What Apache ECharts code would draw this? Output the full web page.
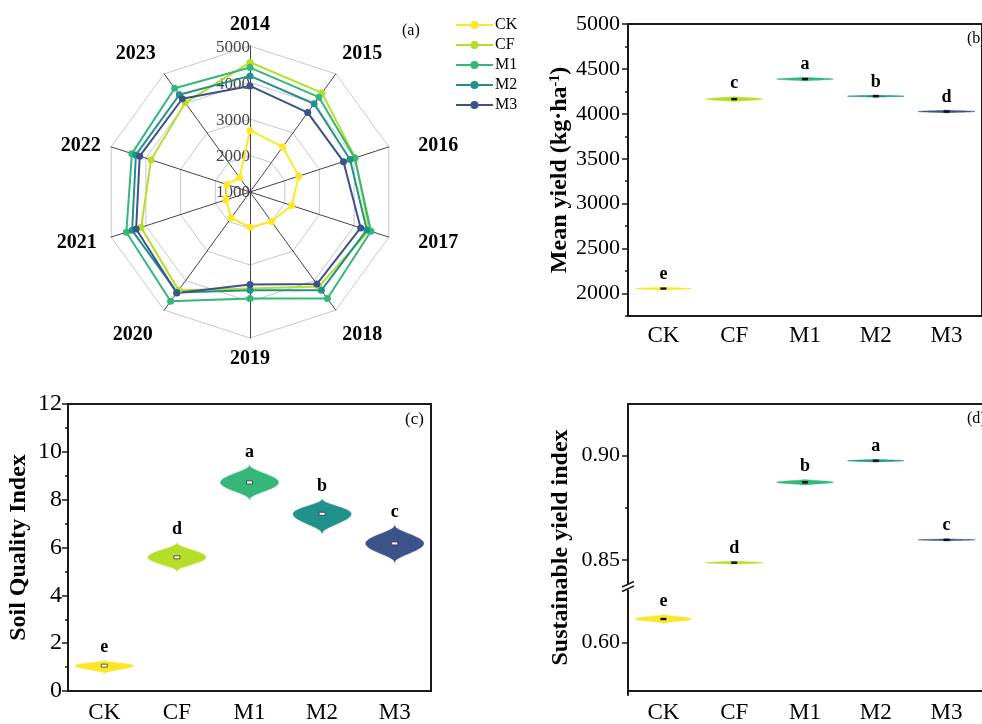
<!DOCTYPE html>
<html><head><meta charset="utf-8">
<script src="https://cdn.jsdelivr.net/npm/echarts@6/dist/echarts.min.js"></script>
<style>html,body{margin:0;padding:0;background:#fff}#c{width:982px;height:724px}</style>
</head><body><div id="c"></div>
<script>
const SERIF = '"Liberation Serif","Times New Roman",serif';
const groups = ['CK', 'CF', 'M1', 'M2', 'M3'];
const colors = ['#FDE725', '#B5DE2B', '#35B779', '#21918C', '#3B528B'];

// (a) yearly yields
const years = ['2014', '2015', '2016', '2017', '2018', '2019', '2020', '2021', '2022', '2023'];
const yieldCK = [2687, 2525, 2407, 2202, 2001, 1966, 1880, 1693, 1666, 1484];
const yieldCF = [4554, 4358, 4030, 4430, 4204, 3644, 4330, 4136, 3852, 4021];
const yieldM1 = [4409, 4212, 4019, 4486, 4609, 3917, 4701, 4562, 4402, 4513];
const yieldM2 = [4181, 3988, 3882, 4366, 4329, 3690, 4400, 4396, 4287, 4294];
const yieldM3 = [3907, 3690, 3693, 4187, 4116, 3534, 4418, 4280, 4177, 4157];
const radialMin = 1000, radialMax = 5000;

// (b) mean yield
const meanYield = [2055, 4164, 4387, 4197, 4026];
const meanYieldLow = [2038, 4135, 4365, 4184, 4010];
const meanYieldHigh = [2072, 4194, 4409, 4210, 4042];
const meanYieldLetters = ['e', 'c', 'a', 'b', 'd'];
const yieldTicks = [2000, 2500, 3000, 3500, 4000, 4500, 5000];
const yieldMinorTicks = [1750, 2250, 2750, 3250, 3750, 4250, 4750];

// (c) soil quality index
const sqi = [1.06, 5.59, 8.72, 7.41, 6.17];
const sqiLow = [0.73, 5.0, 8.0, 6.58, 5.37];
const sqiHigh = [1.28, 6.2, 9.45, 8.03, 6.93];
const sqiLetters = ['e', 'd', 'a', 'b', 'c'];

// (d) sustainable yield index
const syi = [0.6113, 0.8487, 0.8871, 0.8974, 0.8596];
const syiLow = [0.6092, 0.8479, 0.8857, 0.8967, 0.8591];
const syiHigh = [0.6135, 0.8495, 0.8885, 0.8981, 0.8601];
const syiLetters = ['e', 'd', 'b', 'a', 'c'];
const syiUpperTicks = [0.85, 0.90];
const syiUpperMinor = [0.875];
const syiLowerTicks = [0.60];

const yieldSeries = [yieldCK, yieldCF, yieldM1, yieldM2, yieldM3];
// clockwise arrangement (ECharts radar runs counter-clockwise)
const order = [0, 9, 8, 7, 6, 5, 4, 3, 2, 1];
// per-label padding of the radar year names (layout only)
const namePad = {
  '2014': [0, 0, 0, 0], '2015': [0, 0, 22, 0], '2016': [5, 0, 0, 19], '2017': [5, 0, 0, 19],
  '2018': [32, 0, 0, 0], '2019': [0, 0, 0, 0], '2020': [32, 5, 0, 0], '2021': [5, 4, 0, 0],
  '2022': [5, 0, 0, 0], '2023': [0, 2, 22, 0]
};
const nameRich = {};
years.forEach(y => {
  nameRich['y' + y] = { color: '#000', fontFamily: SERIF, fontWeight: 'bold', fontSize: 20, padding: namePad[y] };
});

const AX = '#1a1a1a';
const D_LEFT = 628, D_BREAK = 588;

function violin(marker, letters) {
  return function (params, api) {
    const ci = api.value(0);
    const m = api.coord([ci, api.value(1)]);
    const lo = api.coord([ci, api.value(2)]);
    const hi = api.coord([ci, api.value(3)]);
    const half = api.size([1, 0])[0] * 0.4;
    const N = 40, right = [], left = [];
    for (let k = 0; k <= N; k++) {
      const y = lo[1] + (hi[1] - lo[1]) * k / N;
      let t = y >= m[1] ? (y - m[1]) / ((lo[1] - m[1]) || 1) : (m[1] - y) / ((m[1] - hi[1]) || 1);
      t = Math.min(1, Math.abs(t));
      const w = half * Math.pow(Math.max(0, 1 - t * t), 2.2);
      right.push([m[0] + w, y]);
      left.unshift([m[0] - w, y]);
    }
    const pts = right.concat(left);
    const children = [
      { type: 'polygon', shape: { points: pts }, style: { fill: colors[ci], stroke: colors[ci], lineWidth: 0.5 } },
      marker === 'white'
        ? { type: 'rect', shape: { x: m[0] - 3, y: m[1] - 1.5, width: 6, height: 3 }, style: { fill: '#fff', stroke: '#333', lineWidth: 0.8 } }
        : { type: 'rect', shape: { x: m[0] - 3, y: m[1] - 1.2, width: 6, height: 2.4 }, style: { fill: '#111' } },
      { type: 'text', style: { text: letters[ci], x: m[0], y: hi[1] - 4, align: 'center', verticalAlign: 'bottom', font: 'bold 18px ' + SERIF, fill: '#000' } }
    ];
    return { type: 'group', children: children };
  };
}

function catAxis(gridIndex, extra) {
  return Object.assign({
    type: 'category', gridIndex: gridIndex, data: groups, boundaryGap: true,
    axisLine: { lineStyle: { color: AX, width: 2 } },
    axisTick: { alignWithLabel: true, length: 5, lineStyle: { color: AX, width: 1.5 } },
    axisLabel: { color: '#000', fontFamily: SERIF, fontSize: 23, margin: 10 },
    splitLine: { show: false }
  }, extra || {});
}
const nameStyle = { color: '#000', fontFamily: SERIF, fontWeight: 'bold', fontSize: 24 };
const tickLabel = { color: '#000', fontFamily: SERIF, fontSize: 22 };
const plain = v => String(v);

const chart = echarts.init(document.getElementById('c'), null, { renderer: 'canvas' });
const option = {
  animation: false,
  backgroundColor: '#fff',
  textStyle: { fontFamily: SERIF },
  legend: {
    orient: 'vertical', left: 451, top: 12, itemWidth: 37, itemHeight: 9, itemGap: 4,
    icon: 'path://M0,3.5H37V5.5H0Z M14.5,4.5A4,4 0 1,1 22.5,4.5A4,4 0 1,1 14.5,4.5Z',
    textStyle: { fontFamily: SERIF, fontSize: 16, color: '#000', padding: [0, 0, 0, -3] },
    selectedMode: false, data: groups
  },
  radar: {
    center: [250, 192], radius: 146, startAngle: 90, shape: 'polygon', splitNumber: 4,
    indicator: order.map(i => ({ name: years[i], min: radialMin, max: radialMax })),
    axisName: { color: '#000', fontFamily: SERIF, fontWeight: 'bold', fontSize: 20,
      formatter: name => '{y' + name + '|' + name + '}', rich: nameRich },
    nameGap: 11,
    splitLine: { lineStyle: { color: '#c8c8c8', width: 1 } },
    splitArea: { show: false },
    axisLine: { lineStyle: { color: '#444', width: 1 } },
    axisTick: { show: false },
    axisLabel: { show: false }
  },
  grid: [
    { left: 250, top: 48, width: 1, height: 145 },
    { left: 628, top: 24, width: 362, height: 292, show: true, borderColor: AX, borderWidth: 2 },
    { left: 68, top: 404, width: 363, height: 290, show: true, borderColor: AX, borderWidth: 2 },
    { left: D_LEFT, top: 404, width: 362, height: 291 },
    { left: D_LEFT, top: 404, width: 362, height: D_BREAK - 404 },
    { left: D_LEFT, top: D_BREAK, width: 362, height: 695 - D_BREAK }
  ],
  xAxis: [
    { type: 'value', gridIndex: 0, show: false },
    catAxis(1, { axisLabel: { color: '#000', fontFamily: SERIF, fontSize: 23, margin: 8 } }),
    catAxis(2),
    catAxis(3),
    catAxis(3, { position: 'top', axisTick: { show: false }, axisLabel: { show: false } }),
    catAxis(4, { show: false }),
    catAxis(5, { show: false })
  ],
  yAxis: [
    { type: 'value', gridIndex: 0, min: radialMin, max: radialMax, interval: 1000,
      axisLine: { show: false }, axisTick: { show: false }, splitLine: { show: false },
      axisLabel: { color: '#444', fontFamily: SERIF, fontSize: 17, margin: 0, formatter: plain } },
    { type: 'value', gridIndex: 1, min: 1750, max: 5000,
      axisLine: { show: true, lineStyle: { color: AX, width: 2 } },
      axisTick: { show: true, customValues: yieldTicks, length: 6, lineStyle: { color: AX, width: 1.5 } },
      axisLabel: Object.assign({ customValues: yieldTicks, margin: 8, formatter: plain }, tickLabel),
      splitLine: { show: false },
      name: 'Mean yield (kg·ha{sup|-1})', nameLocation: 'middle', nameGap: 56,
      nameTextStyle: Object.assign({}, nameStyle, { rich: { sup: { fontFamily: SERIF, fontWeight: 'bold', fontSize: 14, verticalAlign: 'top', color: '#000' } } }) },
    { type: 'value', gridIndex: 1, min: 1750, max: 5000, position: 'left',
      axisLine: { show: false }, axisLabel: { show: false }, splitLine: { show: false },
      axisTick: { show: true, customValues: yieldMinorTicks, length: 3, lineStyle: { color: AX, width: 1.5 } } },
    { type: 'value', gridIndex: 2, min: 0, max: 12, interval: 2,
      axisLine: { show: true, lineStyle: { color: AX, width: 2 } },
      axisTick: { show: true, length: 6, lineStyle: { color: AX, width: 1.5 } },
      minorTick: { show: true, splitNumber: 2, length: 3, lineStyle: { color: AX, width: 1.5 } },
      axisLabel: Object.assign({ margin: 6 }, tickLabel, { fontSize: 24 }),
      splitLine: { show: false },
      name: 'Soil Quality Index', nameLocation: 'middle', nameGap: 37, nameTextStyle: nameStyle },
    { type: 'value', gridIndex: 3, min: 0, max: 1,
      axisLine: { show: false }, axisTick: { show: false }, axisLabel: { show: false }, splitLine: { show: false },
      name: 'Sustainable yield index', nameLocation: 'middle', nameGap: 55, nameTextStyle: nameStyle },
    { type: 'value', gridIndex: 4, min: 0.8366, max: 0.9245,
      axisLine: { show: true, lineStyle: { color: AX, width: 2 } },
      axisTick: { show: true, customValues: syiUpperTicks, length: 6, lineStyle: { color: AX, width: 1.5 } },
      axisLabel: Object.assign({ customValues: syiUpperTicks, margin: 8, formatter: v => Number(v).toFixed(2) }, tickLabel),
      splitLine: { show: false } },
    { type: 'value', gridIndex: 4, min: 0.8366, max: 0.9245, position: 'left',
      axisLine: { show: false }, axisLabel: { show: false }, splitLine: { show: false },
      axisTick: { show: true, customValues: syiUpperMinor, length: 3, lineStyle: { color: AX, width: 1.5 } } },
    { type: 'value', gridIndex: 5, min: 0.575, max: 0.6261,
      axisLine: { show: true, lineStyle: { color: AX, width: 2 } },
      axisTick: { show: true, customValues: syiLowerTicks, length: 6, lineStyle: { color: AX, width: 1.5 } },
      axisLabel: Object.assign({ customValues: syiLowerTicks, margin: 8, formatter: v => Number(v).toFixed(2) }, tickLabel),
      splitLine: { show: false } }
  ],
  series: groups.map((g, gi) => ({
    type: 'radar', name: g, z: 3,
    symbol: 'circle', symbolSize: 7,
    lineStyle: { width: 2, color: colors[gi] },
    itemStyle: { color: colors[gi] },
    data: [{ name: g, value: order.map(i => yieldSeries[gi][i]) }]
  })).concat([
    { type: 'custom', xAxisIndex: 1, yAxisIndex: 1, renderItem: violin('black', meanYieldLetters),
      data: groups.map((g, i) => [i, meanYield[i], meanYieldLow[i], meanYieldHigh[i]]) },
    { type: 'custom', xAxisIndex: 2, yAxisIndex: 3, renderItem: violin('white', sqiLetters),
      data: groups.map((g, i) => [i, sqi[i], sqiLow[i], sqiHigh[i]]) },
    { type: 'custom', xAxisIndex: 5, yAxisIndex: 5, renderItem: violin('black', syiLetters),
      data: groups.map((g, i) => [i, syi[i], syiLow[i], syiHigh[i]]).filter(d => d[1] > 0.8) },
    { type: 'custom', xAxisIndex: 6, yAxisIndex: 7, renderItem: violin('black', syiLetters),
      data: groups.map((g, i) => [i, syi[i], syiLow[i], syiHigh[i]]).filter(d => d[1] < 0.7) }
  ]),
  graphic: [
    { type: 'text', style: { text: '(a)', x: 402, y: 31, verticalAlign: 'middle', font: '16px ' + SERIF, fill: '#000' } },
    { type: 'text', style: { text: '(b)', x: 967, y: 39, verticalAlign: 'middle', font: '16px ' + SERIF, fill: '#000' } },
    { type: 'text', style: { text: '(c)', x: 405, y: 420, verticalAlign: 'middle', font: '17px ' + SERIF, fill: '#000' } },
    { type: 'text', style: { text: '(d)', x: 967, y: 419, verticalAlign: 'middle', font: '16px ' + SERIF, fill: '#000' } },
    { type: 'rect', z: 100, shape: { x: D_LEFT - 3, y: D_BREAK - 3.5, width: 6, height: 5 }, style: { fill: '#fff' } },
    { type: 'line', z: 101, shape: { x1: D_LEFT - 6, y1: D_BREAK - 1, x2: D_LEFT + 6, y2: D_BREAK - 6.5 }, style: { stroke: AX, lineWidth: 1.5 } },
    { type: 'line', z: 101, shape: { x1: D_LEFT - 6, y1: D_BREAK + 3.5, x2: D_LEFT + 6, y2: D_BREAK - 2 }, style: { stroke: AX, lineWidth: 1.5 } }
  ]
};
chart.setOption(option);
</script>
</body></html>
